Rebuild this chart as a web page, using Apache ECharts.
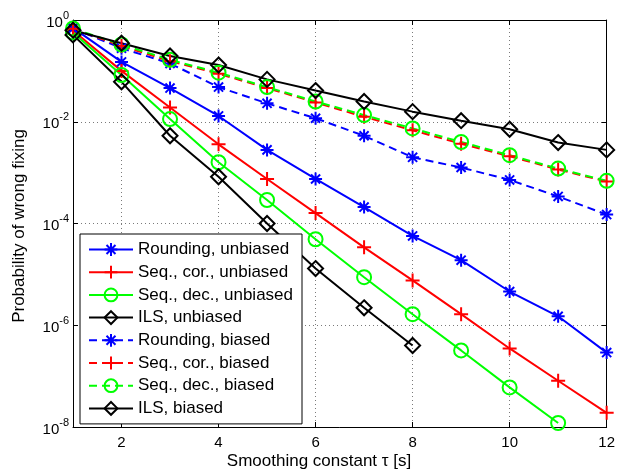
<!DOCTYPE html>
<html>
<head>
<meta charset="utf-8">
<script src="https://cdn.jsdelivr.net/npm/echarts@6/dist/echarts.min.js"></script>
<style>
  html, body { margin: 0; padding: 0; background: #fff; }
  #chart { width: 618px; height: 475px; }
</style>
</head>
<body>
<div id="chart"></div>
<script>
// Smoothing constant (x axis)
var tau = [1, 2, 3, 4, 5, 6, 7, 8, 9, 10, 11, 12];

// Probability of wrong fixing per method
var roundingUnbiased = [0.70, 0.15, 0.046, 0.013, 0.0028, 7.5e-4, 2.1e-4, 5.7e-5, 1.9e-5, 4.6e-6, 1.5e-6, 2.9e-7];
var seqCorUnbiased   = [0.62, 0.10, 0.019, 0.0036, 7.5e-4, 1.6e-4, 3.4e-5, 7.6e-6, 1.65e-6, 3.5e-7, 8.1e-8, 1.9e-8];
var seqDecUnbiased   = [0.57, 0.083, 0.0113, 0.0016, 2.9e-4, 4.9e-5, 8.8e-6, 1.65e-6, 3.2e-7, 6.0e-8, 1.2e-8, null];
var ilsUnbiased      = [0.51, 0.061, 0.0053, 8.3e-4, 1.0e-4, 1.3e-5, 2.2e-6, 4.0e-7, null, null, null, null];
var roundingBiased   = [0.68, 0.28, 0.14, 0.048, 0.023, 0.0117, 0.0053, 0.0020, 0.00126, 7.2e-4, 3.4e-4, 1.5e-4];
var seqCorBiased     = [0.67, 0.31, 0.155, 0.088, 0.046, 0.024, 0.0125, 0.0068, 0.0037, 0.0021, 0.00115, 6.7e-4];
var seqDecBiased     = [0.68, 0.33, 0.165, 0.092, 0.048, 0.025, 0.0135, 0.0074, 0.0040, 0.0022, 0.0012, 6.9e-4];
var ilsBiased        = [0.63, 0.35, 0.196, 0.13, 0.068, 0.041, 0.025, 0.0158, 0.0105, 0.0071, 0.0039, 0.0028];

// Axis tick values
var xTicks = [2, 4, 6, 8, 10, 12];
var yExponents = [-8, -6, -4, -2, 0];

var seriesNames = [
  'Rounding, unbiased', 'Seq., cor., unbiased', 'Seq., dec., unbiased', 'ILS, unbiased',
  'Rounding, biased', 'Seq., cor., biased', 'Seq., dec., biased', 'ILS, biased'
];
var seriesValues = [
  roundingUnbiased, seqCorUnbiased, seqDecUnbiased, ilsUnbiased,
  roundingBiased, seqCorBiased, seqDecBiased, ilsBiased
];

var FONT = 'Liberation Sans, Arial, Helvetica, sans-serif';

// Marker shapes (outline only)
var ASTERISK = 'path://M0,-10 L0,10 M-10,0 L10,0 M-7,-7 L7,7 M-7,7 L7,-7';
var PLUS = 'path://M0,-10 L0,10 M-10,0 L10,0';
var CIRCLE = 'circle';
var DIAMOND = 'path://M0,-10 L10,0 L0,10 L-10,0 Z';

var styles = [
  { color: '#0000ff', symbol: ASTERISK, size: 13, dash: 'solid' },
  { color: '#ff0000', symbol: PLUS, size: 14, dash: 'solid' },
  { color: '#00ff00', symbol: CIRCLE, size: 14, dash: 'solid' },
  { color: '#000000', symbol: DIAMOND, size: 15, dash: 'solid' },
  { color: '#0000ff', symbol: ASTERISK, size: 13, dash: [8, 5] },
  { color: '#ff0000', symbol: PLUS, size: 14, dash: [8, 5] },
  { color: '#00ff00', symbol: CIRCLE, size: 14, dash: [8, 5] },
  { color: '#000000', symbol: DIAMOND, size: 15, dash: 'solid' }
];

var series = seriesNames.map(function (name, i) {
  var s = styles[i];
  return {
    name: name,
    type: 'line',
    clip: false,
    symbol: s.symbol,
    symbolSize: s.size,
    showAllSymbol: true,
    connectNulls: false,
    lineStyle: { color: s.color, width: 2, type: s.dash },
    itemStyle: { color: 'rgba(0,0,0,0)', borderColor: s.color, borderWidth: 2 },
    emphasis: { disabled: true },
    data: tau.map(function (t, k) { return [t, seriesValues[i][k]]; })
  };
});

var gridLine = { show: true, lineStyle: { color: '#7a7a7a', width: 1, type: [1, 3] } };
var boxLine = { show: true, lineStyle: { color: '#000', width: 1 } };
var inTick = { show: true, inside: true, length: 5, lineStyle: { color: '#000', width: 1 } };
var xTick = Object.assign({ customValues: xTicks }, inTick);

var chart = echarts.init(document.getElementById('chart'), null, { renderer: 'canvas' });
chart.setOption({
  animation: false,
  backgroundColor: '#fff',
  grid: { left: 73, right: 11, top: 20, bottom: 48, containLabel: false },
  xAxis: [{
    type: 'value', min: 1, max: 12, position: 'bottom',
    axisLine: boxLine, axisTick: xTick, splitLine: gridLine,
    axisLabel: {
      customValues: xTicks,
      margin: 8, color: '#000', fontFamily: FONT, fontSize: 15
    }
  }, {
    type: 'value', min: 1, max: 12, position: 'top',
    axisLine: boxLine, axisTick: xTick, splitLine: { show: false },
    axisLabel: { show: false, customValues: xTicks }
  }],
  yAxis: [{
    type: 'log', logBase: 10, min: 1e-8, max: 1, interval: 2, position: 'left',
    axisLine: boxLine, axisTick: inTick, splitLine: gridLine, minorTick: { show: false },
    axisLabel: {
      margin: 4, color: '#000', fontFamily: FONT,
      formatter: function (v) {
        var e = Math.round(Math.log10(v));
        return yExponents.indexOf(e) >= 0 ? '{b|10}{s|' + e + '}' : '';
      },
      rich: {
        b: { fontSize: 15, fontFamily: FONT, color: '#000', verticalAlign: 'bottom' },
        s: { fontSize: 11, fontFamily: FONT, color: '#000', verticalAlign: 'bottom', padding: [0, 0, 9, 0] }
      }
    }
  }, {
    type: 'log', logBase: 10, min: 1e-8, max: 1, interval: 2, position: 'right',
    axisLine: boxLine, axisTick: inTick, splitLine: { show: false }, axisLabel: { show: false }
  }],
  legend: {
    orient: 'vertical', left: 80, top: 234,
    backgroundColor: '#fff', borderColor: '#000', borderWidth: 1,
    padding: [7, 9, 7, 8],
    itemWidth: 44, itemHeight: 16, itemGap: 5.7,
    selectedMode: false,
    textStyle: { color: '#000', fontFamily: FONT, fontSize: 17 },
    data: seriesNames
  },
  graphic: [{
    type: 'text', x: 319, y: 461,
    style: { text: 'Smoothing constant \u03c4 [s]', fill: '#000', font: '17px ' + FONT, align: 'center', verticalAlign: 'middle' }
  }, {
    type: 'text', x: 19, y: 226, rotation: Math.PI / 2,
    style: { text: 'Probability of wrong fixing', fill: '#000', font: '17px ' + FONT, align: 'center', verticalAlign: 'middle' }
  }],
  series: series
});
</script>
</body>
</html>
